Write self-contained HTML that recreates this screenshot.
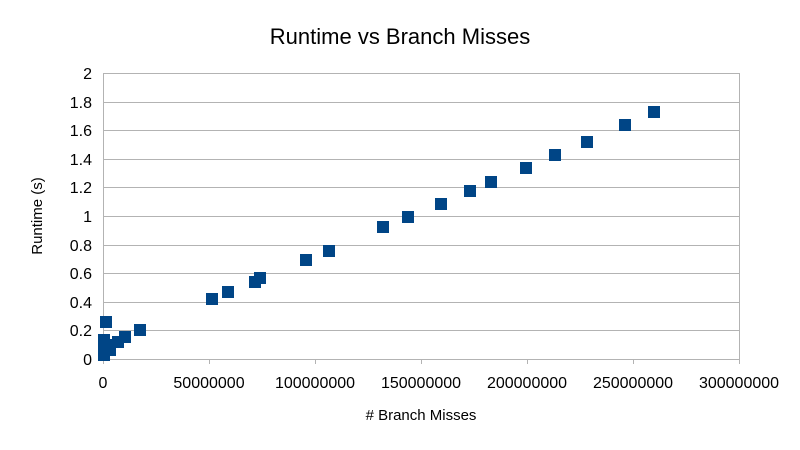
<!DOCTYPE html>
<html><head><style>body{margin:0;background:#fff}svg{display:block}text{font-family:"Liberation Sans",sans-serif;fill:#000}</style></head><body>
<svg width="800" height="450" xmlns="http://www.w3.org/2000/svg">
<rect width="800" height="450" fill="#fff"/>
<text x="400" y="44" font-size="22" text-anchor="middle">Runtime vs Branch Misses</text>
<g stroke="#b3b3b3" stroke-width="1">
<line x1="103" y1="73.5" x2="739" y2="73.5"/><line x1="103" y1="102.5" x2="739" y2="102.5"/><line x1="103" y1="130.5" x2="739" y2="130.5"/><line x1="103" y1="159.5" x2="739" y2="159.5"/><line x1="103" y1="187.5" x2="739" y2="187.5"/><line x1="103" y1="216.5" x2="739" y2="216.5"/><line x1="103" y1="245.5" x2="739" y2="245.5"/><line x1="103" y1="273.5" x2="739" y2="273.5"/><line x1="103" y1="302.5" x2="739" y2="302.5"/><line x1="103" y1="330.5" x2="739" y2="330.5"/><line x1="103" y1="359.5" x2="739" y2="359.5"/>
<line x1="103.5" y1="73" x2="103.5" y2="364"/><line x1="739.5" y1="73" x2="739.5" y2="364"/>
<line x1="209.5" y1="359" x2="209.5" y2="364"/><line x1="315.5" y1="359" x2="315.5" y2="364"/><line x1="421.5" y1="359" x2="421.5" y2="364"/><line x1="527.5" y1="359" x2="527.5" y2="364"/><line x1="633.5" y1="359" x2="633.5" y2="364"/>
<line x1="98" y1="359.5" x2="103" y2="359.5"/>
</g>
<g font-size="16" text-anchor="end">
<text x="92" y="79">2</text><text x="92" y="108">1.8</text><text x="92" y="136">1.6</text><text x="92" y="165">1.4</text><text x="92" y="193">1.2</text><text x="92" y="222">1</text><text x="92" y="251">0.8</text><text x="92" y="279">0.6</text><text x="92" y="308">0.4</text><text x="92" y="336">0.2</text><text x="92" y="365">0</text>
</g>
<g font-size="16" text-anchor="middle">
<text x="103" y="388">0</text><text x="209" y="388">50000000</text><text x="315" y="388">100000000</text><text x="421" y="388">150000000</text><text x="527" y="388">200000000</text><text x="633" y="388">250000000</text><text x="739" y="388">300000000</text>
</g>
<text x="421" y="420" font-size="15" text-anchor="middle"># Branch Misses</text>
<text transform="translate(42,216) rotate(-90)" font-size="15" text-anchor="middle">Runtime (s)</text>
<g fill="#004586">
<rect x="100" y="316" width="12" height="12"/><rect x="134" y="324" width="12" height="12"/><rect x="119" y="331" width="12" height="12"/><rect x="112" y="336" width="12" height="12"/><rect x="102" y="339" width="12" height="12"/><rect x="98" y="344" width="12" height="12"/><rect x="98" y="349" width="12" height="12"/><rect x="98" y="334" width="12" height="12"/><rect x="104" y="344" width="12" height="12"/>
<rect x="206" y="293" width="12" height="12"/><rect x="222" y="286" width="12" height="12"/><rect x="249" y="276" width="12" height="12"/><rect x="254" y="272" width="12" height="12"/><rect x="300" y="254" width="12" height="12"/><rect x="323" y="245" width="12" height="12"/><rect x="377" y="221" width="12" height="12"/><rect x="402" y="211" width="12" height="12"/><rect x="435" y="198" width="12" height="12"/><rect x="464" y="185" width="12" height="12"/><rect x="485" y="176" width="12" height="12"/><rect x="520" y="162" width="12" height="12"/><rect x="549" y="149" width="12" height="12"/><rect x="581" y="136" width="12" height="12"/><rect x="619" y="119" width="12" height="12"/><rect x="648" y="106" width="12" height="12"/>
</g>
</svg>
</body></html>
